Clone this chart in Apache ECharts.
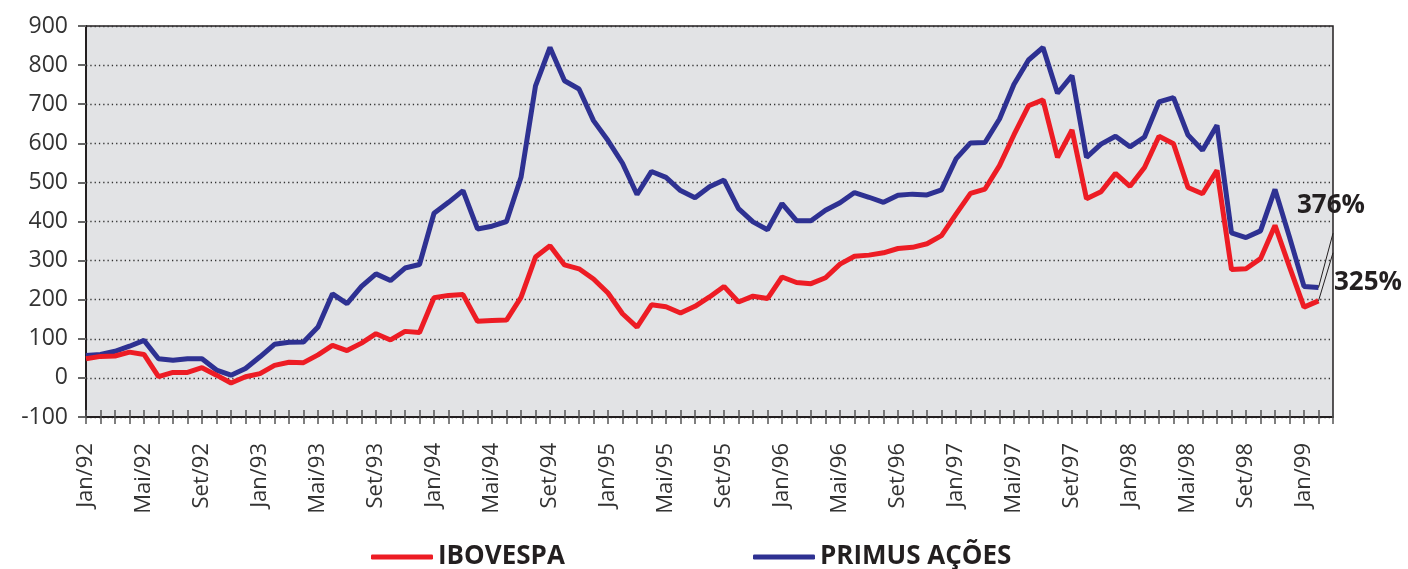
<!DOCTYPE html>
<html>
<head>
<meta charset="utf-8">
<script src="https://cdn.jsdelivr.net/npm/echarts@6/dist/echarts.min.js"></script>
<style>
  html, body { margin: 0; padding: 0; background: #ffffff; }
  #chart { width: 1408px; height: 569px; }
</style>
</head>
<body>
<div id="chart"></div>
<script>
  // month names and years for the category axis
  var monthNames = ['Jan', 'Fev', 'Mar', 'Abr', 'Mai', 'Jun', 'Jul', 'Ago', 'Set', 'Out', 'Nov', 'Dez'];
  var years = ['92', '93', '94', '95', '96', '97', '98', '99'];
  var lastMonthIndex = 2; // axis runs to Mar/99

  var ibovespa = [
    49, 55, 56, 66, 60, 3, 14, 14, 26, 7, -13, 3,
    11, 32, 40, 39, 59, 83, 70, 89, 113, 97, 119, 116,
    205, 211, 213, 145, 147, 148, 206, 309, 338, 289, 279, 253,
    217, 164, 130, 187, 182, 166, 183, 207, 234, 194, 209, 203,
    258, 244, 241, 256, 291, 311, 314, 320, 331, 334, 343, 364,
    419, 472, 483, 543, 622, 696, 711, 564, 634, 458, 476, 523,
    490, 538, 618, 599, 487, 471, 531, 277, 279, 305, 390, 284,
    181, 197
  ];

  var primus = [
    57, 60, 68, 81, 96, 49, 45, 49, 49, 20, 7, 24,
    54, 86, 91, 92, 130, 215, 190, 234, 266, 249, 281, 290,
    421, 449, 479, 381, 388, 400, 513, 747, 845, 760, 739, 658,
    607, 549, 469, 528, 513, 479, 461, 489, 506, 433, 399, 379,
    446, 402, 402, 429, 448, 474, 462, 449, 467, 470, 468, 481,
    560, 601, 602, 662, 751, 813, 845, 728, 773, 564, 598, 618,
    591, 616, 706, 717, 621, 582, 646, 371, 359, 376, 482, 360,
    234, 231
  ];

  // end labels and where their leader lines meet the right edge
  var endLabels = ['376%', '325%'];
  var leaderEnds = [370, 320];

  var categories = [];
  years.forEach(function (y, yi) {
    monthNames.forEach(function (m, mi) {
      if (yi === years.length - 1 && mi > lastMonthIndex) return;
      categories.push(m + '/' + y);
    });
  });
  var lastData = categories[ibovespa.length - 1];
  var lastCat = categories[categories.length - 1];

  var chart = echarts.init(document.getElementById('chart'));
  var font = '"Open Sans", "Noto Sans", sans-serif';
  var dark = '#231f20';

  function leader(val, endVal) {
    return {
      silent: true,
      symbol: 'none',
      label: { show: false },
      lineStyle: { color: dark, width: 1, type: 'solid' },
      data: [[{ coord: [lastData, val] }, { coord: [lastCat, endVal] }]]
    };
  }

  var option = {
    animation: false,
    textStyle: { fontFamily: font },
    grid: {
      left: 86, right: 75, top: 26, bottom: 152,
      show: true,
      backgroundColor: '#e2e3e5',
      borderColor: dark,
      borderWidth: 1.5
    },
    legend: [
      {
        data: ['IBOVESPA'],
        left: 366, top: 537,
        icon: 'roundRect', itemWidth: 62, itemHeight: 5,
        textStyle: { fontSize: 26, fontWeight: 'bold', color: dark, fontFamily: font, lineHeight: 30 }
      },
      {
        data: ['PRIMUS AÇÕES'],
        left: 748, top: 537,
        icon: 'roundRect', itemWidth: 62, itemHeight: 5,
        textStyle: { fontSize: 26, fontWeight: 'bold', color: dark, fontFamily: font, lineHeight: 30 }
      }
    ],
    xAxis: [
      {
        type: 'category',
        data: categories,
        boundaryGap: false,
        position: 'bottom',
        axisLine: { onZero: false, lineStyle: { color: dark, width: 2 } },
        axisTick: { show: true, interval: 0, length: 7, lineStyle: { color: '#555', width: 1.5 } },
        axisLabel: {
          interval: 3, rotate: 90, margin: 26,
          fontSize: 22, color: '#333', fontFamily: font
        },
        splitLine: { show: false }
      },
      {
        type: 'category',
        data: categories,
        boundaryGap: false,
        position: 'bottom',
        axisLine: { show: false, onZero: false },
        axisTick: { show: true, inside: true, interval: 0, length: 7, lineStyle: { color: '#555', width: 1.5 } },
        axisLabel: { show: false },
        splitLine: { show: false }
      }
    ],
    yAxis: {
      type: 'value',
      min: -100, max: 900, interval: 100,
      axisLine: { show: true, lineStyle: { color: dark, width: 2 } },
      axisTick: { show: true, length: 8, lineStyle: { color: '#666', width: 2 } },
      axisLabel: { fontSize: 23, color: '#333', margin: 18, fontFamily: font },
      splitLine: { show: true, lineStyle: { color: '#333', width: 1.3, type: [1.3, 3] } }
    },
    series: [
      {
        name: 'IBOVESPA',
        type: 'line',
        data: ibovespa,
        showSymbol: false,
        symbol: 'none',
        color: '#ed1c24',
        lineStyle: { width: 5, color: '#ed1c24' },
        markLine: leader(ibovespa[ibovespa.length - 1], leaderEnds[1]),
        z: 3
      },
      {
        name: 'PRIMUS AÇÕES',
        type: 'line',
        data: primus,
        showSymbol: false,
        symbol: 'none',
        color: '#2e3192',
        lineStyle: { width: 5, color: '#2e3192' },
        markLine: leader(primus[primus.length - 1], leaderEnds[0]),
        z: 2
      }
    ],
    graphic: [
      {
        type: 'text', left: 1297, top: 193, z: 10,
        style: { text: endLabels[0], font: 'bold 26px ' + font, fill: dark }
      },
      {
        type: 'text', left: 1334, top: 270, z: 10,
        style: { text: endLabels[1], font: 'bold 26px ' + font, fill: dark }
      }
    ]
  };

  chart.setOption(option);
</script>
</body>
</html>
